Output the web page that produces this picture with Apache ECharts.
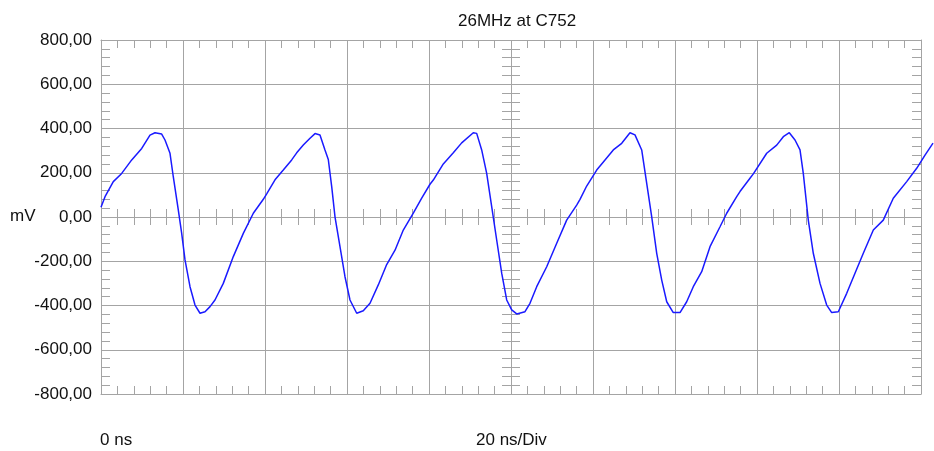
<!DOCTYPE html>
<html>
<head>
<meta charset="utf-8">
<title>26MHz at C752</title>
<script src="https://cdn.jsdelivr.net/npm/echarts@6/dist/echarts.min.js"></script>
<style>
html, body { margin: 0; padding: 0; background: #fff; }
#scope { width: 934px; height: 451px; }
</style>
</head>
<body>
<div id="scope"></div>
<script>
// time base 20 ns/Div, 10 divisions
var timeRange = [0, 200];
var timeStep = 20;
// vertical 200 mV/Div
var voltRange = [-800, 800];
var voltStep = 200;

// waveform (runs a little past the last division)
var timeNs = [
	0, 0.98, 3.0, 5.05, 7.49, 9.93, 11.95, 13.17, 14.8, 15.61, 16.83, 17.63, 18.85, 19.68, 20.49, 21.71,
	22.93, 24.15, 25.37, 26.59, 27.8, 29.83, 32.27, 34.71, 37.15, 39.59,
	40.41, 42.44, 44.46, 46.51, 47.73, 49.34, 50.98, 52.2, 53.41, 54.63, 55.44, 56.27, 57.07, 58.29, 59.51,
	60.73, 62.37, 63.97, 65.61, 67.63, 69.68, 71.71, 73.73, 76.17, 78.22, 80.24,
	81.05, 83.49, 85.93, 87.97, 90.8, 91.63, 92.85, 94.07, 95.29, 96.51, 97.73, 98.95, 100.17, 101.39,
	103.41, 104.63, 106.27, 108.71, 111.15, 113.58, 116.02,
	116.83, 118.46, 120.9, 122.93, 124.95, 127.0, 129.02, 130.24, 131.88, 133.1, 134.32, 135.54, 136.76,
	137.98, 139.58, 141.22, 142.85, 144.46, 146.51, 148.54, 150.98, 152.61, 155.05,
	155.85, 158.29, 159.1, 162.37, 164.81, 166.42, 167.88, 169.27, 170.49, 171.29, 172.51, 173.73, 175.37,
	177.0, 178.22, 179.83, 181.88, 183.9, 185.93, 188.37, 190.8, 193.24, 196.51, 198.95, 200.98, 202.93
];
var voltageMv = [
	44, 92, 160, 197, 258, 310, 370, 381, 375, 348, 288, 182, 32, -74, -194, -315,
	-398, -435, -428, -405, -375, -300, -179, -74, 17, 80,
	105, 168, 212, 258, 290, 325, 356, 377, 371, 303, 260, 137, 1, -134, -270,
	-375, -435, -424, -390, -307, -215, -150, -59, 17, 85, 148,
	167, 240, 290, 335, 381, 378, 303, 197, 47, -104, -254, -375, -420, -438,
	-428, -390, -315, -225, -119, -14, 54,
	80, 140, 212, 258, 303, 333, 381, 371, 303, 152, 1, -164, -285,
	-383, -432, -432, -383, -315, -247, -134, -44, 17, 92,
	115, 175, 195, 288, 325, 363, 381, 348, 303, 197, -14, -164, -300,
	-398, -432, -428, -345, -254, -164, -59, -14, 85, 160, 220, 280, 334
];

var grey = '#a4a4a4';
var font = 'Liberation Sans, Arial, sans-serif';

// screen frame: 820px for 10 divisions, trace area runs 12px further right
var plotLeft = 101, plotWidth = 820, traceWidth = 832;

function xScale(position, offset, inside, split) {
	return {
		type : 'value',
		min : timeRange[0],
		max : timeRange[1],
		interval : timeStep,
		position : position,
		offset : offset,
		axisLine : { show : offset === 0, onZero : false, lineStyle : { color : grey } },
		axisTick : { show : false, inside : inside },
		minorTick : { show : true, splitNumber : 5, length : 8, lineStyle : { color : grey } },
		axisLabel : { show : false },
		splitLine : { show : split, lineStyle : { color : grey } }
	};
}

function yScale(position, offset, inside, split) {
	return {
		type : 'value',
		min : voltRange[0],
		max : voltRange[1],
		interval : voltStep,
		position : position,
		offset : offset,
		axisLine : { show : offset === 0, onZero : false, lineStyle : { color : grey } },
		axisTick : { show : false, inside : inside },
		minorTick : { show : true, splitNumber : 5, length : 9, lineStyle : { color : grey } },
		axisLabel : { show : false },
		splitLine : { show : split, lineStyle : { color : grey } }
	};
}

function drawScope(id) {
	var trace = [];
	for (var i = 0; i < timeNs.length; i++) {
		trace.push([timeNs[i], voltageMv[i]]);
	}

	var left = yScale('left', 0, true, true);
	left.axisLabel = {
		show : true,
		margin : 9,
		color : '#111',
		fontSize : 17,
		fontFamily : font,
		formatter : function(v) {
			return v.toFixed(2).replace('.', ',');
		}
	};

	var option = {
		animation : false,
		title : {
			text : '26MHz at C752',
			left : 453,
			top : 8,
			textStyle : { color : '#111', fontSize : 17, fontWeight : 'normal', fontFamily : font }
		},
		grid : [
			{ left : plotLeft, right : 934 - plotLeft - plotWidth, top : 40, bottom : 57, outerBoundsMode : 'none' },
			// same scale, a bit wider so the trace can run off the frame
			{ left : plotLeft, right : 934 - plotLeft - traceWidth, top : 40, bottom : 57, outerBoundsMode : 'none' }
		],
		xAxis : [
			xScale('bottom', 0, true, true),
			xScale('top', 0, true, false),
			// centre line ticks, up and down
			xScale('bottom', -177, true, false),
			xScale('bottom', -177, false, false),
			{ type : 'value', gridIndex : 1, min : timeRange[0], max : timeRange[1] * traceWidth / plotWidth, show : false }
		],
		yAxis : [
			left,
			yScale('right', 0, true, false),
			yScale('left', -410, true, false),
			yScale('left', -410, false, false),
			{ type : 'value', gridIndex : 1, min : voltRange[0], max : voltRange[1], show : false }
		],
		graphic : [ {
			type : 'text',
			left : 10,
			top : 208,
			style : { text : 'mV', fill : '#111', fontSize : 17, fontFamily : font }
		}, {
			type : 'text',
			left : 100,
			top : 432,
			style : { text : '0 ns', fill : '#111', fontSize : 17, fontFamily : font }
		}, {
			type : 'text',
			left : 476,
			top : 432,
			style : { text : '20 ns/Div', fill : '#111', fontSize : 17, fontFamily : font }
		} ],
		series : [ {
			type : 'line',
			xAxisIndex : 4,
			yAxisIndex : 4,
			showSymbol : false,
			symbol : 'none',
			lineStyle : { color : '#1a1aff', width : 1.5 },
			data : trace
		} ]
	};
	var myChart = echarts.init(document.getElementById(id));
	myChart.setOption(option, true);
}

drawScope('scope');
</script>
</body>
</html>
